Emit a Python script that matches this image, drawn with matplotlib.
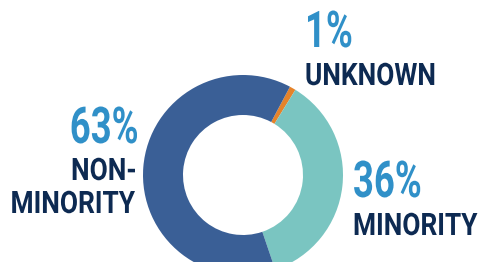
import matplotlib
matplotlib.use("Agg")
import matplotlib.pyplot as plt
from matplotlib.textpath import TextPath
from matplotlib.patches import PathPatch
from matplotlib.font_manager import FontProperties
from matplotlib.transforms import Affine2D

labels = ["UNKNOWN", "MINORITY", "NON-\nMINORITY"]
values = [1, 36, 63]
colors = ["#E5832A", "#7AC5C1", "#3A5F96"]

pct_color = "#3090C8"
lab_color = "#0D2A52"
prop = FontProperties(family="Roboto", weight="bold")

# cap height of the font at size 1
cap_h = TextPath((0, 0), "H", size=1, prop=prop).get_extents().height


def cond_text(ax, x, y, s, cap_px, color, ha="left", squeeze=0.8):
    # condensed bold text drawn as a path, x/y = left or right end of baseline
    tp = TextPath((0, 0), s, size=1, prop=prop)
    k = cap_px / cap_h
    ext = tp.get_extents()
    w = ext.x1 * k * squeeze
    x0 = x if ha == "left" else x - w
    tr = Affine2D().scale(k * squeeze, k).translate(x0, y)
    ax.add_patch(PathPatch(tr.transform_path(tp), facecolor=color,
                           edgecolor="none"))


fig = plt.figure(figsize=(4.79, 2.62), dpi=100)
ax = fig.add_axes([0, 0, 1, 1])

ax.pie(values, colors=colors, startangle=62, counterclock=False,
       center=(243, 87), radius=100,
       wedgeprops=dict(width=40, edgecolor="none"))
ax.set_xlim(0, 479)
ax.set_ylim(0, 262)
ax.set_aspect("equal")
ax.axis("off")

pq = 0.72
lq = 0.85
# unknown
cond_text(ax, 305, 215, "%d%%" % values[0], 36, pct_color, squeeze=pq)
cond_text(ax, 305, 177, labels[0], 22, lab_color, squeeze=lq)
# minority
cond_text(ax, 353, 65, "%d%%" % values[1], 36, pct_color, squeeze=pq)
cond_text(ax, 353, 27, labels[1], 22, lab_color, squeeze=lq)
# non-minority
cond_text(ax, 137, 119, "%d%%" % values[2], 36, pct_color, ha="right", squeeze=pq)
cond_text(ax, 135, 82, "NON-", 22, lab_color, ha="right", squeeze=lq)
cond_text(ax, 135, 49, "MINORITY", 22, lab_color, ha="right", squeeze=lq)

fig.savefig("out.png", dpi=100)
